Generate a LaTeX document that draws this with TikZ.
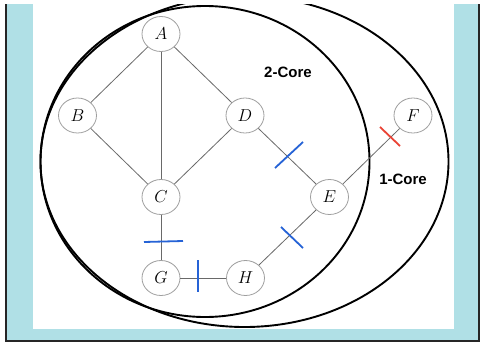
\documentclass[tikz,border=0pt]{standalone}
\usepackage{fontspec}
\usepackage{xcolor}
\usepackage{tikz}
\usetikzlibrary{shapes.geometric}
\newfontfamily\labelfont{Liberation Sans}
\definecolor{framebg}{RGB}{176,224,230}
\definecolor{cutblue}{RGB}{38,99,214}
\definecolor{cutred}{RGB}{234,67,53}
\definecolor{edgegray}{RGB}{105,105,105}

\begin{document}
\begin{tikzpicture}[x=1pt, y=-1pt,
    vertex/.style={ellipse, draw=gray!75, line width=0.8pt, fill=white,
      minimum width=38pt, minimum height=35pt, inner sep=0pt,
      font=\fontsize{18}{20}\selectfont},
    link/.style={edgegray, line width=0.8pt},
    core/.style={black, line width=1.9pt},
    cut/.style={line width=1.8pt},
    corelabel/.style={font=\labelfont\bfseries\fontsize{15}{17}\selectfont}]
  \useasboundingbox (0,0) rectangle (481,343);
  % frame
  \fill[framebg] (6,4) rectangle (479,341);
  \fill[white] (33,0) rectangle (454,329);
  \draw[black!85, line width=1.2pt] (6,4) -- (6,341) -- (479,341) -- (479,4);
  % cores
  \begin{scope}
    \clip (0,4) rectangle (481,343);
    \draw[core] (244.5,161.5) ellipse [x radius=204, y radius=165.5];
    \draw[core] (205,161.5) ellipse [x radius=164.5, y radius=155.5];
  \end{scope}
  \node[corelabel] (twocore) at (288,72) {2-Core};
  \node[corelabel] (onecore) at (403,179) {1-Core};
  % vertices
  \node[vertex] (A) at (161,34) {$A$};
  \node[vertex] (B) at (77.5,115.5) {$B$};
  \node[vertex] (D) at (245,115.5) {$D$};
  \node[vertex] (F) at (413,115.5) {$F$};
  \node[vertex] (C) at (161,197) {$C$};
  \node[vertex] (E) at (329.5,197) {$E$};
  \node[vertex] (G) at (161,278) {$G$};
  \node[vertex] (H) at (245.5,278) {$H$};
  % edges
  \draw[link] (A) -- (B);
  \draw[link] (A) -- (C);
  \draw[link] (A) -- (D);
  \draw[link] (B) -- (C);
  \draw[link] (D) -- (C);
  \draw[link] (D) -- (E);
  \draw[link] (E) -- (F);
  \draw[link] (C) -- (G);
  \draw[link] (G) -- (H);
  \draw[link] (H) -- (E);
  % removed edges
  \draw[cut, cutblue] (275,168) -- (303,142);
  \draw[cut, cutblue] (144,242) -- (183,241);
  \draw[cut, cutblue] (198,260) -- (198,292);
  \draw[cut, cutblue] (281,227) -- (303,248);
  \draw[cut, cutred] (380,127) -- (400,146);
\end{tikzpicture}
\end{document}
